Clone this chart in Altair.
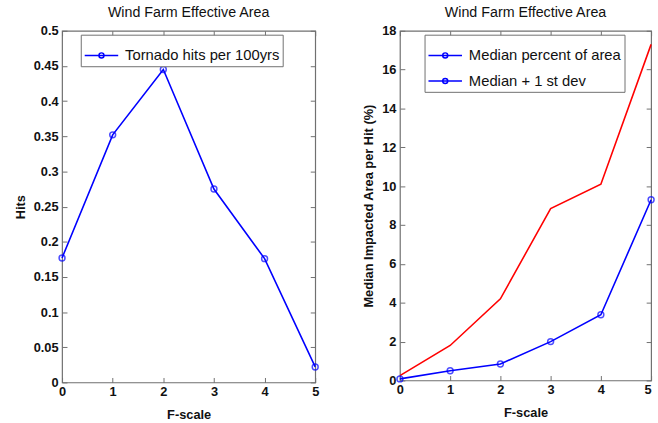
import altair as alt
import pandas as pd

# ---- data ----
fscale = [0, 1, 2, 3, 4, 5]
hits = [0.177, 0.352, 0.445, 0.275, 0.176, 0.022]
median_pct = [0.08, 0.5, 0.85, 2.0, 3.38, 9.3]
median_plus_sd = [0.25, 1.8, 4.2, 8.85, 10.1, 17.3]

x_ticks = [0, 1, 2, 3, 4, 5]
hits_ticks = [0, 0.05, 0.1, 0.15, 0.2, 0.25, 0.3, 0.35, 0.4, 0.45, 0.5]
area_ticks = [0, 2, 4, 6, 8, 10, 12, 14, 16, 18]

panel_title = "Wind Farm Effective Area"
left_series = ["Tornado hits per 100yrs"]
right_series = ["Median percent of area", "Median + 1 st dev"]

BLUE = "#0000ff"
RED = "#ff0000"
FRAME = "#707070"
FONT = "Liberation Sans"

line_circle = "M-1,0H1M0.15,0A0.15,0.15,0,1,1,-0.15,0A0.15,0.15,0,1,1,0.15,0"

left_df = pd.DataFrame({"F": fscale, "v": hits, "series": left_series[0]})
right_df = pd.concat([
    pd.DataFrame({"F": fscale, "v": median_pct, "series": right_series[0]}),
    pd.DataFrame({"F": fscale, "v": median_plus_sd, "series": right_series[1]}),
])


def axis(orient, values, title=None, labels=True, fmt="~g", **kw):
    args = dict(orient=orient, values=values, offset=-5, tickSize=5, domain=False,
                grid=False, labels=labels, tickColor=FRAME, tickWidth=1,
                labelFont=FONT, labelFontSize=13, labelFontWeight="bold",
                labelColor="#111", titleFont=FONT, titleFontSize=13,
                titleFontWeight="bold", titleColor="#111", format=fmt)
    args["title"] = title
    args.update(kw)
    return alt.Axis(**args)


def legend(x, y, **kw):
    return alt.Legend(orient="none", legendX=x, legendY=y, title=None,
                      fillColor="white", strokeColor=FRAME, padding=3,
                      symbolSize=1156, symbolStrokeWidth=1.5, symbolFillColor="transparent",
                      labelFont=FONT, labelFontSize=15, labelColor="#111",
                      rowPadding=-3, labelOffset=6, **kw)


xs = alt.Scale(domain=[0, 5], nice=False, zero=False)


def line_layer(df, ys, yticks, ytitle, xlabel_align, line_enc):
    return alt.Chart(df).mark_line(strokeWidth=1.6).encode(
        x=alt.X("F:Q", scale=xs, axis=axis("bottom", x_ticks, "F-scale", labelPadding=3,
                                           titlePadding=11, labelAlign=xlabel_align)),
        y=alt.Y("v:Q", scale=ys, axis=axis("left", yticks, ytitle, labelPadding=4, titlePadding=6)),
        **line_enc,
    )


def points_layer(df, ys, yticks):
    return alt.Chart(df).mark_point(filled=False, size=36, strokeWidth=1.5, color=BLUE).encode(
        x=alt.X("F:Q", scale=xs, axis=axis("top", x_ticks, labels=False)),
        y=alt.Y("v:Q", scale=ys, axis=axis("right", yticks, labels=False)),
    )


title = alt.TitleParams(panel_title, font=FONT, fontSize=14.5, fontWeight="normal",
                        color="#111", offset=4)

# left panel
ys_l = alt.Scale(domain=[0, 0.5], nice=False, zero=False)
left_line = line_layer(left_df, ys_l, hits_ticks, "Hits", "center", {"color": alt.value(BLUE)})
left_pts = points_layer(left_df, ys_l, hits_ticks)
left_leg = alt.Chart(left_df).mark_point(filled=False, color=BLUE, strokeWidth=1.5).encode(
    x=alt.X("F:Q", scale=xs, axis=None),
    y=alt.Y("v:Q", scale=ys_l, axis=None),
    opacity=alt.Opacity("series:N", scale=alt.Scale(domain=left_series, range=[1]),
                        legend=legend(19, 4, symbolType=line_circle, symbolStrokeColor=BLUE)),
).transform_filter("false")
left = alt.layer(left_line, left_pts, left_leg).resolve_scale(
    x="independent", y="independent").properties(width=257, height=357, title=title)

# right panel
ys_r = alt.Scale(domain=[0, 18], nice=False, zero=False)
right_line = line_layer(
    right_df, ys_r, area_ticks, "Median Impacted Area per Hit (%)",
    {"expr": "datum.value == 5 ? 'right' : 'center'"},
    {"color": alt.Color("series:N", scale=alt.Scale(domain=right_series, range=[BLUE, RED]),
                        legend=None)})
right_pts = points_layer(right_df[right_df["series"] == right_series[0]], ys_r, area_ticks)
right_leg = alt.Chart(right_df).mark_point(filled=False, color=BLUE, strokeWidth=1.5).encode(
    x=alt.X("F:Q", scale=xs, axis=None),
    y=alt.Y("v:Q", scale=ys_r, axis=None),
    opacity=alt.Opacity("series:N", scale=alt.Scale(domain=right_series, range=[1, 1]),
                        legend=legend(25, 4, symbolType=line_circle, symbolStrokeColor=BLUE)),
).transform_filter("false")
right = alt.layer(right_line, right_pts, right_leg).resolve_scale(
    x="independent", y="independent").properties(width=255, height=355, title=title)

chart = alt.hconcat(left, right, spacing=40).resolve_scale(
    opacity="independent"
).resolve_legend(opacity="independent").properties(
    padding={"left": 14, "top": 1, "right": 0, "bottom": 0},
    background="white",
).configure_view(stroke=FRAME, strokeWidth=1.2)

chart.save("out.html", embed_options={"renderer": "svg", "actions": False})
